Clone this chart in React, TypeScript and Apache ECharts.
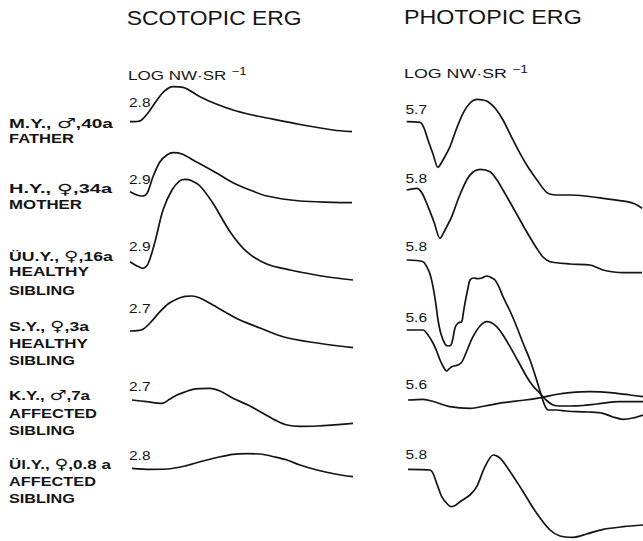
import React, { useEffect, useRef } from "react";
import * as echarts from "echarts";

// ---------- DATA ----------
const panelTitles = ["SCOTOPIC ERG", "PHOTOPIC ERG"];
const unitMain = "LOG NW·SR";
const unitExp = "−1";

const subjectLines = [
  ["M.Y., ♂,40a", "FATHER"],
  ["H.Y., ♀,34a", "MOTHER"],
  ["ÜU.Y., ♀,16a", "HEALTHY", "SIBLING"],
  ["S.Y., ♀,3a", "HEALTHY", "SIBLING"],
  ["K.Y., ♂,7a", "AFFECTED", "SIBLING"],
  ["Ül.Y., ♀,0.8 a", "AFFECTED", "SIBLING"],
];

const scotopicIntensity = ["2.8", "2.9", "2.9", "2.7", "2.7", "2.8"];
const photopicIntensity = ["5.7", "5.8", "5.8", "5.6", "5.6", "5.8"];

// traces: [time, deflection (upward positive)]
const scotFather = [[0,0],[7,0.2],[11,1.2],[18,8.7],[27,21.7],[35,31],[43,35],[53,34.4],[70,25],[85,18.2],[103,11.7],[120,7.2],[137,3.7],[170,-2.8],[203,-8.3],[222,-10]];
const scotMother = [[0,0],[7,-3.3],[12,-4.3],[17,-1.6],[23,15],[30,30],[37,36.7],[43,39],[52,37.7],[63,31.7],[87,18.4],[103,9],[120,1.7],[137,-4.3],[170,-9.3],[203,-10.6],[222,-11]];
const scotUU = [[0,0],[7,-4.3],[12.7,-6.6],[18,-2.3],[25,20],[33,51.7],[42,71.7],[50,81],[55,82.4],[61.7,81],[70,75.7],[83,58.4],[100,30],[116.7,10],[136.7,-2.3],[160,-8.3],[170,-10.3],[195,-14.8],[223,-18.3]];
const scotSY = [[0,0],[7,0.3],[13,1.7],[20,8],[30,19.3],[38,27],[47,32],[55,34.7],[62,35],[70,33],[80,27.7],[95,19],[110,11],[130,3],[153,-5.7],[180,-11],[223,-16.7]];
const scotKY = [[2,0],[17,-1.7],[32,-3.3],[40,1],[47,5],[63,10.7],[80,11.7],[90,9],[103,1.7],[120,-6],[133,-13.3],[147,-21],[157,-25],[170,-26.3],[187,-26],[223,-23.3]];
const scotUl = [[2,0],[20,-1],[37,-0.7],[55,2.3],[70,6.6],[87,10.8],[103,14],[118,14.6],[130,14.3],[145,11.3],[157,8.3],[170,3.3],[187,-1.7],[205,-5.7],[223,-8.4]];

const photFather = [[0.7,0],[14,-0.6],[18,-6.3],[22,-18.3],[27,-32.3],[32,-45.6],[37,-38.3],[44,-25],[50,-8.3],[57,8.4],[64,18.7],[71,22.4],[77,21.7],[82,20],[89,13.7],[97,1.7],[105,-14.3],[114,-31.6],[122,-45.3],[131,-58.3],[141,-71],[150,-73.3],[164,-73.3],[179,-74.3],[197,-76.6],[221,-80],[229,-82.3],[236,-86.6]];
const photMother = [[0.7,0],[10.7,1.7],[16,-3],[22,-16.7],[28,-32],[34,-48.3],[39,-40],[45.7,-26.7],[53,-7],[60.7,10],[67,18],[74,20.7],[84,18.3],[91,10],[97,0],[105,-14],[114,-30],[122,-44],[130.7,-58.3],[137,-67],[144,-71.7],[164,-74],[184,-75],[197,-80],[217,-82.7],[236,-82.7]];
const photUU = [[0.7,0],[17,-1.7],[20.7,-6.7],[24,-14],[27,-26.7],[30,-45],[32,-60],[35,-74],[39,-84],[42,-86],[45,-85],[47,-78],[49,-68],[52,-63],[55.7,-61.7],[57,-55],[59,-43],[62,-28],[64,-20],[68,-18],[72,-18.7],[76,-18],[80.7,-16],[84,-17],[89,-20],[93,-27],[97,-36.7],[104,-51],[110.7,-66.7],[117,-83],[124,-100],[130,-118],[135.7,-136.7],[139,-146],[142,-150],[150.7,-150],[160,-151],[170.7,-151.7],[184,-152],[197,-153.3],[207,-157],[217,-159.3],[227,-158],[237,-155]];
const photSY = [[0.7,0],[17,0],[22,-5],[27,-13],[31,-22],[34,-30],[38,-38],[40.7,-41],[43,-39],[45.7,-36.7],[52,-35],[55,-33],[57,-30],[62,-18],[67,-6.7],[74,4],[80.7,8.3],[85,7.5],[90.7,3.3],[97,-5],[104,-16.7],[112,-31],[120.7,-46.7],[127,-56],[134,-63.3],[140,-70],[147,-75],[154,-76],[164,-76],[177,-75.5],[190.7,-74],[214,-71.7],[237,-71.7]];
const photKY = [[2,0],[17,0.7],[29,-2],[44,-6.7],[64,-8.3],[79,-6],[97,-2.7],[119,0],[137,2.7],[150,5.5],[164,7.3],[184,8.3],[211,6.7],[224,5],[237,3.3]];
const photUl = [[2,0],[24,-0.7],[30.7,-14],[35.7,-27.4],[42.3,-35.7],[45.7,-37.4],[50,-35.7],[54,-32.4],[64,-25.7],[70.7,-17.4],[79,2.6],[87.3,14.3],[92.3,12.6],[97.3,7.6],[114,-17.4],[130.7,-44],[144,-60.7],[154,-66.7],[167.3,-68],[180.7,-64.7],[197.3,-60],[217.3,-57.4],[237,-55.7]];

const scotopicTraces = [scotFather, scotMother, scotUU, scotSY, scotKY, scotUl];
const photopicTraces = [photFather, photMother, photUU, photSY, photKY, photUl];

// ---------- LAYOUT ----------
const W = 643;
const H = 541;
const SCOT_LEFT = 130;
const PHOT_LEFT = 406;
const scotBaselines = [121.7, 191.7, 261.7, 331, 400, 468.3];
const photBaselines = [121.7, 190, 260, 330, 400, 469.3];
const scotLabelY = [102, 179.5, 246, 308.3, 386.7, 455];
const photLabelY = [109.7, 178, 246.7, 317, 384.7, 454.7];
const subjectLineY = [
  [122.5, 138.3],
  [188.3, 205],
  [255.3, 271.7, 290.5],
  [325.3, 343.3, 360.3],
  [395, 413.8, 430.3],
  [463.7, 481.2, 498.3],
];
const subjectLineW = [
  [104, 65],
  [103, 73],
  [104, 80, 66],
  [80, 79, 66],
  [81, 88, 66],
  [102, 87, 66],
];

const FONT = '"Liberation Sans", "DejaVu Sans", sans-serif';
const SYM_FONT = '"DejaVu Sans", sans-serif';
const INK = "#141414";

let ctx: CanvasRenderingContext2D | null = null;
function measure(text: string, size: number, weight: string, family = FONT) {
  if (!ctx) ctx = document.createElement("canvas").getContext("2d");
  if (!ctx) return text.length * size * 0.6;
  ctx.font = `${weight} ${size}px ${family}`;
  return ctx.measureText(text).width;
}

function txt(text: string, x: number, y: number, size: number, width: number, weight = "normal") {
  const mw = measure(text, size, weight);
  const sx = mw > 0 ? width / mw : 1;
  return {
    type: "text",
    x,
    y,
    scaleX: sx,
    silent: true,
    style: {
      text,
      fontSize: size,
      fontFamily: FONT,
      fontWeight: weight,
      fill: INK,
      align: "left",
      verticalAlign: "middle",
      textAlign: "left",
      textVerticalAlign: "middle",
    },
  };
}

function subjectText(line: string, x: number, y: number, width: number) {
  const size = 12.5;
  const symSize = 14;
  const parts = line.split(/([♂♀])/).filter((p) => p !== "");
  let mw = 0;
  const pieces = parts.map((p) => {
    if (p === "♂" || p === "♀") {
      mw += measure(p, symSize, "normal", SYM_FONT);
      return "{s|" + p + "}";
    }
    mw += measure(p, size, "bold");
    return "{a|" + p + "}";
  });
  return {
    type: "text",
    x,
    y,
    scaleX: width / mw,
    silent: true,
    style: {
      text: pieces.join(""),
      fontFamily: FONT,
      fill: INK,
      align: "left",
      verticalAlign: "middle",
      textAlign: "left",
      textVerticalAlign: "middle",
      rich: {
        a: { fontSize: size, fontFamily: FONT, fontWeight: "bold", fill: INK, lineHeight: 15, verticalAlign: "bottom" },
        s: { fontSize: symSize, fontFamily: SYM_FONT, fontWeight: "normal", fill: INK, lineHeight: 15, verticalAlign: "bottom" },
      },
    },
  };
}

function unitText(x: number, y: number, width: number) {
  const mainSize = 13.5;
  const expSize = 10.5;
  const mw = measure(unitMain, mainSize, "normal") + 4 + measure(unitExp, expSize, "normal");
  return {
    type: "text",
    x,
    y,
    scaleX: width / mw,
    silent: true,
    style: {
      text: "{a|" + unitMain + "}{b|" + unitExp + "}",
      fontFamily: FONT,
      fill: INK,
      align: "left",
      verticalAlign: "middle",
      textAlign: "left",
      textVerticalAlign: "middle",
      rich: {
        a: { fontSize: mainSize, fontFamily: FONT, fill: INK, lineHeight: 16, verticalAlign: "bottom" },
        b: { fontSize: expSize, fontFamily: FONT, fill: INK, lineHeight: 11, verticalAlign: "top", padding: [0, 0, 0, 4] },
      },
    },
  };
}

export default function App() {
  const ref = useRef<HTMLDivElement>(null);
  useEffect(() => {
    if (!ref.current) return;
    const chart = echarts.init(ref.current, undefined, { renderer: "svg" });

    const series: any[] = [];
    scotopicTraces.forEach((tr, i) => {
      series.push({
        type: "line",
        name: "scotopic " + subjectLines[i][0],
        data: tr.map(([t, v]) => [SCOT_LEFT + t, scotBaselines[i] - v]),
        showSymbol: false,
        symbol: "none",
        smooth: 0.3,
        lineStyle: { color: INK, width: 1.7 },
        silent: true,
      });
    });
    photopicTraces.forEach((tr, i) => {
      series.push({
        type: "line",
        name: "photopic " + subjectLines[i][0],
        data: tr.map(([t, v]) => [PHOT_LEFT + t, photBaselines[i] - v]),
        showSymbol: false,
        symbol: "none",
        smooth: 0.3,
        lineStyle: { color: INK, width: 1.7 },
        silent: true,
      });
    });

    const graphics: any[] = [];
    graphics.push(txt(panelTitles[0], 126.7, 18, 20, 175));
    graphics.push(txt(panelTitles[1], 404, 17, 20, 177.7));
    graphics.push(unitText(128, 74, 118.7));
    graphics.push(unitText(404, 72.5, 124));
    scotopicIntensity.forEach((s, i) => graphics.push(txt(s, 129, scotLabelY[i], 13.5, 21.5)));
    photopicIntensity.forEach((s, i) => graphics.push(txt(s, 405.5, photLabelY[i], 13.5, 21.5)));
    subjectLines.forEach((lines, i) => {
      lines.forEach((line, j) => {
        if (/[♂♀]/.test(line)) {
          graphics.push(subjectText(line, 9, subjectLineY[i][j], subjectLineW[i][j]));
        } else {
          graphics.push(txt(line, 9, subjectLineY[i][j], 12.5, subjectLineW[i][j], "bold"));
        }
      });
    });

    chart.setOption({
      animation: false,
      backgroundColor: "#ffffff",
      grid: { left: 0, top: 0, right: 0, bottom: 0, containLabel: false },
      xAxis: { type: "value", min: 0, max: W, show: false },
      yAxis: { type: "value", min: 0, max: H, inverse: true, show: false },
      tooltip: { show: false },
      series,
      graphic: graphics,
    });
    return () => chart.dispose();
  }, []);

  return (
    <div
      ref={ref}
      style={{ position: "absolute", left: 0, top: 0, width: W, height: H, background: "#fff" }}
    />
  );
}
